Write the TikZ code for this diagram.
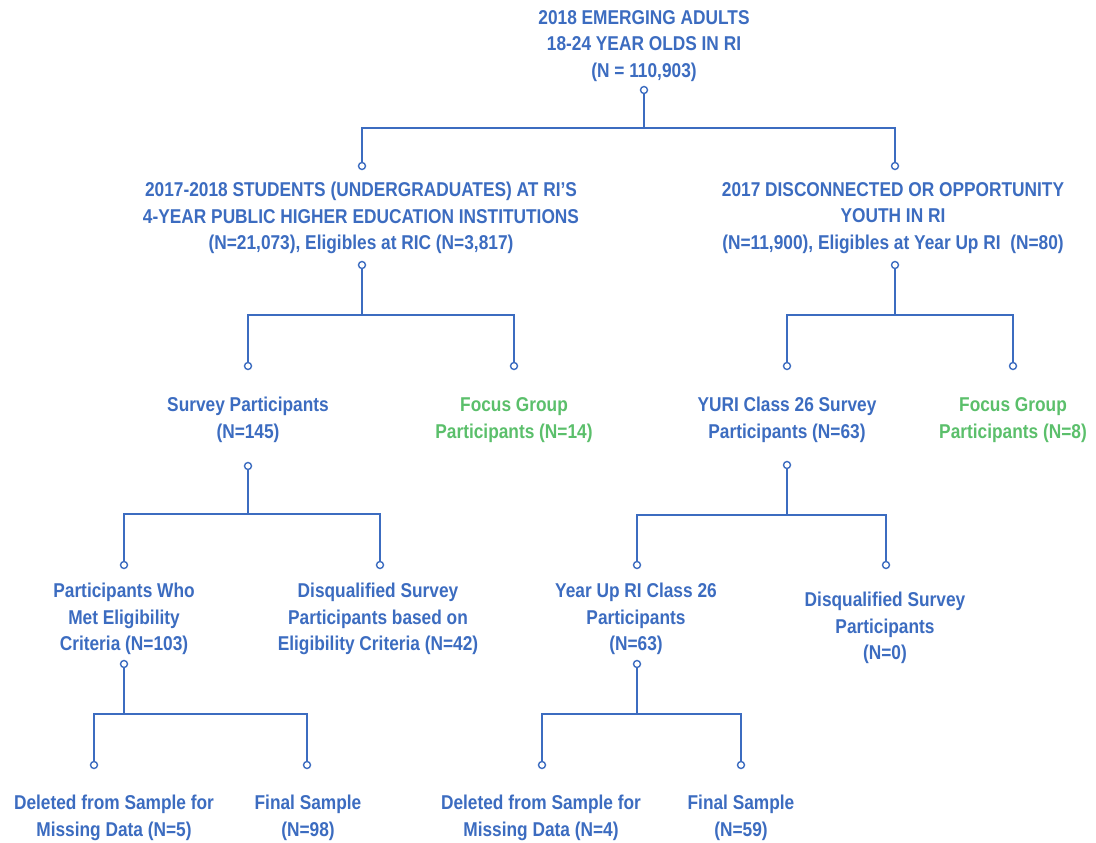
\documentclass[tikz,border=0pt]{standalone}
\usepackage{fontspec}
\setmainfont{Liberation Sans}[FakeStretch=0.865]
\usepackage{tikz}
\usepackage{xcolor}
\definecolor{treeblue}{RGB}{60, 108, 192}
\definecolor{focusgreen}{RGB}{91, 191, 107}

\tikzset{
  lbl/.style={align=center, inner sep=0pt, text=treeblue,
    font=\fontsize{20}{26.5}\selectfont\bfseries},
  grp/.style={lbl, text=focusgreen},
  tip/.style={circle, draw=treeblue, fill=white, line width=1.4pt,
    inner sep=0pt, minimum size=7pt},
  link/.style={draw=treeblue, line width=2.2pt}
}

\begin{document}
\begin{tikzpicture}[x=1pt, y=-1pt]
    \useasboundingbox (0,0) rectangle (1096,843);

    % Root
    \node[lbl] (root) at (644,46) {2018 EMERGING ADULTS\\18-24 YEAR OLDS IN RI\\(N = 110,903)};
    \node[tip] (root-o) at (644,90) {};

    % Level 1
    \node[lbl] (stud) at (361,218) {2017-2018 STUDENTS (UNDERGRADUATES) AT RI’S\\4-YEAR PUBLIC HIGHER EDUCATION INSTITUTIONS\\(N=21,073), Eligibles at RIC (N=3,817)};
    \node[tip] (stud-i) at (362,166) {};
    \node[tip] (stud-o) at (362,265) {};
    \node[lbl] (youth) at (893,218) {2017 DISCONNECTED OR OPPORTUNITY\\YOUTH IN RI\\(N=11,900), Eligibles at Year Up RI~ (N=80)};
    \node[tip] (youth-i) at (895,166) {};
    \node[tip] (youth-o) at (895,265) {};

    % Level 2
    \node[lbl] (surv) at (248,420) {Survey Participants\\(N=145)};
    \node[tip] (surv-i) at (248,366) {};
    \node[tip] (surv-o) at (248,466) {};
    \node[grp] (fgl) at (514,420) {Focus Group\\Participants (N=14)};
    \node[tip] (fgl-i) at (514,366) {};
    \node[lbl] (yuri) at (787,420) {YURI Class 26 Survey\\Participants (N=63)};
    \node[tip] (yuri-i) at (787,366) {};
    \node[tip] (yuri-o) at (787,465) {};
    \node[grp] (fgr) at (1013,420) {Focus Group\\Participants (N=8)};
    \node[tip] (fgr-i) at (1013,366) {};

    % Level 3
    \node[lbl] (met) at (124,619) {Participants Who\\Met Eligibility\\Criteria (N=103)};
    \node[tip] (met-i) at (124,565) {};
    \node[tip] (met-o) at (124,664) {};
    \node[lbl] (disq) at (378,619) {Disqualified Survey\\Participants based on\\Eligibility Criteria (N=42)};
    \node[tip] (disq-i) at (380,565) {};
    \node[lbl] (yup) at (636,619) {Year Up RI Class 26\\Participants\\(N=63)};
    \node[tip] (yup-i) at (637,565) {};
    \node[tip] (yup-o) at (637,664) {};
    \node[lbl] (disq2) at (885,628) {Disqualified Survey\\Participants\\(N=0)};
    \node[tip] (disq2-i) at (886,565) {};

    % Level 4
    \node[lbl] (del) at (114,818) {Deleted from Sample for\\Missing Data (N=5)};
    \node[tip] (del-i) at (94,765) {};
    \node[lbl] (fin) at (308,818) {Final Sample\\(N=98)};
    \node[tip] (fin-i) at (307,765) {};
    \node[lbl] (del2) at (541,818) {Deleted from Sample for\\Missing Data (N=4)};
    \node[tip] (del2-i) at (542,765) {};
    \node[lbl] (fin2) at (741,818) {Final Sample\\(N=59)};
    \node[tip] (fin2-i) at (741,765) {};

    % Bus points
    \coordinate (b0) at (644,128);
    \coordinate (b1) at (362,315);
    \coordinate (b2) at (895,315);
    \coordinate (b3) at (248,514);
    \coordinate (b4) at (787,515);
    \coordinate (b5) at (124,714);
    \coordinate (b6) at (637,714);

    % Connectors
    \path[link] (root-o) -- (b0) -| (stud-i) (b0) -| (youth-i);
    \path[link] (stud-o) -- (b1) -| (surv-i) (b1) -| (fgl-i);
    \path[link] (youth-o) -- (b2) -| (yuri-i) (b2) -| (fgr-i);
    \path[link] (surv-o) -- (b3) -| (met-i) (b3) -| (disq-i);
    \path[link] (yuri-o) -- (b4) -| (yup-i) (b4) -| (disq2-i);
    \path[link] (met-o) -- (b5) -| (del-i) (b5) -| (fin-i);
    \path[link] (yup-o) -- (b6) -| (del2-i) (b6) -| (fin2-i);
\end{tikzpicture}
\end{document}
